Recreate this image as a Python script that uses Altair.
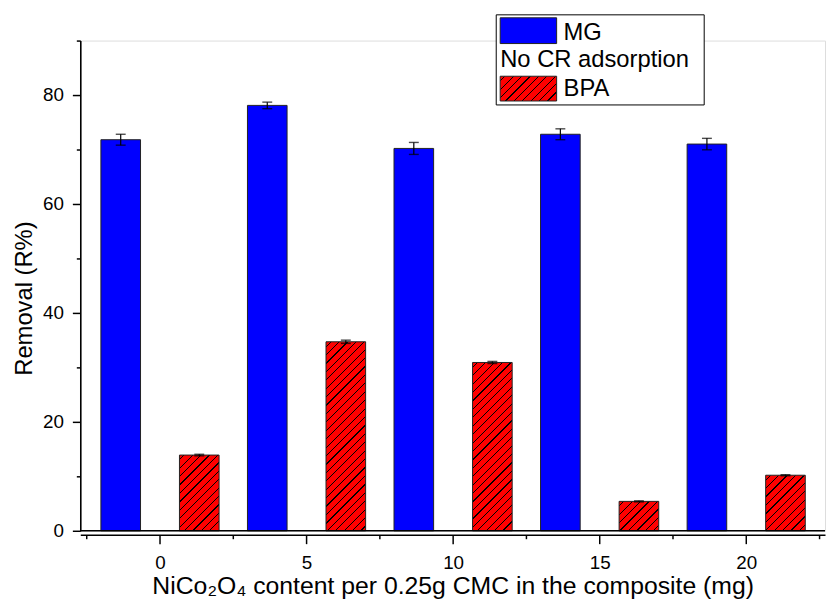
import altair as alt
import pandas as pd

# ---- data ----
groups = [0, 5, 10, 15, 20]
mg = [71.8, 78.1, 70.2, 72.8, 71.0]
mg_err = [1.0, 0.6, 1.1, 1.0, 1.05]
bpa = [13.9, 34.7, 30.9, 5.4, 10.2]
bpa_err = [0.15, 0.3, 0.2, 0.1, 0.1]
x_ticks = [-2.5, 0, 2.5, 5, 7.5, 10, 12.5, 15, 17.5, 20, 22.5]
y_ticks = [0, 10, 20, 30, 40, 50, 60, 70, 80, 90]
legend_labels = ["MG", "No CR adsorption", "BPA"]
x_title = "NiCo\u2082O\u2084 content per 0.25g CMC in the composite (mg)"
y_title = "Removal (R%)"

# ---- layout / style ----
W, H = 752, 495
X_DOMAIN = [-2.55, 22.52]
Y_DOMAIN = [0, 90]
BAR_W = 40
FONT = "Liberation Sans"
BLUE = "#0000FF"
RED = "#FF0000"

df = pd.DataFrame({"group": groups, "mg": mg, "mg_err": mg_err,
                   "bpa": bpa, "bpa_err": bpa_err})

x_axis = alt.Axis(
    values=x_ticks,
    title=x_title,
    labelExpr="datum.value % 5 === 0 ? format(datum.value, 'd') : ''",
    tickSize={"condition": {"test": "datum.value % 5 === 0", "value": 9}, "value": 4},
    offset=4, grid=False, domainColor="black", domainWidth=1.6,
    tickColor="black", tickWidth=1.5, labelFontSize=19, labelPadding=10,
    labelColor="black", labelFlush=False, labelOverlap=False,
    titleFontSize=25, titleFontWeight="normal", titleColor="black",
    titleBaseline="alphabetic", titleY=59,
)
y_axis = alt.Axis(
    values=y_ticks,
    title=y_title,
    labelExpr="datum.value % 20 === 0 ? format(datum.value, 'd') : ''",
    tickSize={"condition": {"test": "datum.value % 20 === 0", "value": 8}, "value": 4},
    grid=False, domainColor="black", domainWidth=1.6,
    tickColor="black", tickWidth=1.5, labelFontSize=19, labelPadding=9,
    labelColor="black", labelFlush=False, labelOverlap=False,
    titleFontSize=24, titleFontWeight="normal", titleColor="black",
    titleBaseline="alphabetic", titleAngle=270, titleX=-49, titleY=260,
    titleAlign="center",
)
x_scale = alt.Scale(domain=X_DOMAIN, nice=False, zero=False)
y_scale = alt.Scale(domain=Y_DOMAIN, nice=False, zero=False)


def X(field):
    return alt.X(field, type="quantitative", scale=x_scale, axis=x_axis)


def Y(field):
    return alt.Y(field, type="quantitative", scale=y_scale, axis=y_axis)


base = alt.Chart(df)

mg_bars = base.transform_calculate(pos="datum.group - 1.34").mark_bar(
    size=BAR_W, fill=BLUE, stroke="#222222", strokeWidth=1
).encode(x=X("pos"), y=Y("mg"))


def hatch(w, h, spacing=8.5, lw=1.25):
    L = w + h
    stops = [{"offset": 0, "color": RED}]
    k = spacing / 2
    while k < L:
        t0 = k / L
        t1 = min((k + lw) / L, 1)
        stops += [{"offset": t0, "color": RED}, {"offset": t0, "color": "black"},
                  {"offset": t1, "color": "black"}, {"offset": t1, "color": RED}]
        k += spacing
    stops.append({"offset": 1, "color": RED})
    c = (w + h) / (w * w + h * h)
    return {"gradient": "linear", "stops": stops,
            "x1": 0, "y1": 0, "x2": c * w, "y2": c * h}


px_per_unit = H / (Y_DOMAIN[1] - Y_DOMAIN[0])
bpa_layers = []
for g, v in zip(groups, bpa):
    bpa_layers.append(
        base.transform_filter(alt.datum.group == g)
        .transform_calculate(pos="datum.group + 1.34")
        .mark_bar(size=BAR_W, fill=hatch(BAR_W, v * px_per_unit),
                  stroke="#222222", strokeWidth=1)
        .encode(x=X("pos"), y=Y("bpa"))
    )

mg_err_calc = base.transform_calculate(
    pos="datum.group - 1.34", lo="datum.mg - datum.mg_err", hi="datum.mg + datum.mg_err")
bpa_err_calc = base.transform_calculate(
    pos="datum.group + 1.34", lo="datum.bpa - datum.bpa_err", hi="datum.bpa + datum.bpa_err")

err_layers = []
for b in (mg_err_calc, bpa_err_calc):
    err_layers.append(b.mark_rule(color="black", strokeWidth=1.2)
                      .encode(x=X("pos"), y=Y("lo"), y2="hi"))
    err_layers.append(b.mark_tick(color="black", size=10, thickness=1.4,
                                  orient="horizontal")
                      .encode(x=X("pos"), y=Y("hi")))
    err_layers.append(b.mark_tick(color="black", size=10, thickness=1.4,
                                  orient="horizontal")
                      .encode(x=X("pos"), y=Y("lo")))

zero_line = base.transform_filter(alt.datum.group == 0).transform_calculate(
    zero="0").mark_rule(color="black", strokeWidth=1.6).encode(y=Y("zero"))

# ---- legend (drawn manually) ----
leg = alt.Chart(pd.DataFrame({"label": legend_labels}))
leg_box = leg.transform_filter(alt.datum.label == "MG").mark_rect(
    fill="white", stroke="black", strokeWidth=1).encode(
    x=alt.value(420), x2=alt.value(630), y=alt.value(-26), y2=alt.value(65))
leg_mg = leg.transform_filter(alt.datum.label == "MG").mark_rect(
    fill=BLUE, stroke="#222222", strokeWidth=1).encode(
    x=alt.value(424), x2=alt.value(481), y=alt.value(-23), y2=alt.value(3))
leg_bpa = leg.transform_filter(alt.datum.label == "BPA").mark_rect(
    fill=hatch(57, 25), stroke="#222222", strokeWidth=1).encode(
    x=alt.value(424), x2=alt.value(481), y=alt.value(36), y2=alt.value(61))
text_kw = dict(font=FONT, fontSize=24, align="left", baseline="alphabetic", color="black")
leg_t1 = leg.transform_filter(alt.datum.label == "MG").mark_text(**text_kw).encode(
    x=alt.value(488), y=alt.value(-1), text="label:N")
leg_t2 = leg.transform_filter(alt.datum.label == "No CR adsorption").mark_text(**text_kw).encode(
    x=alt.value(424), y=alt.value(27), text="label:N")
leg_t3 = leg.transform_filter(alt.datum.label == "BPA").mark_text(**text_kw).encode(
    x=alt.value(488), y=alt.value(56), text="label:N")

chart = alt.layer(
    mg_bars, *bpa_layers, *err_layers, zero_line,
    leg_box, leg_mg, leg_bpa, leg_t1, leg_t2, leg_t3,
).properties(
    width=W, height=H,
    autosize=alt.AutoSizeParams(type="none"),
    padding={"left": 73, "top": 30, "right": 1, "bottom": 68},
    background="white",
).configure_view(stroke=None).configure(font=FONT)

chart.save("out.html", embed_options={"renderer": "svg", "actions": False})
